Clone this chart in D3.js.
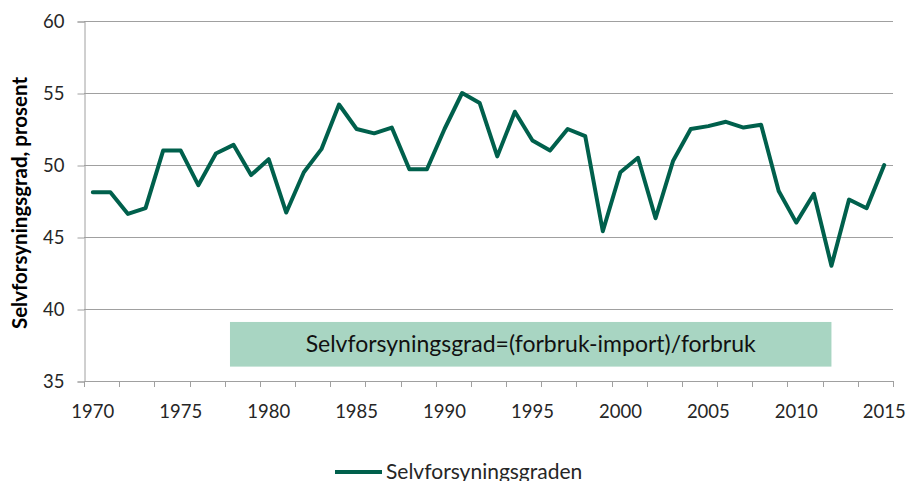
<!DOCTYPE html>
<html>
<head>
<meta charset="utf-8">
<script src="https://cdn.jsdelivr.net/npm/d3@7"></script>
<style>
  body { margin: 0; background: #fff; }
  svg { font-family: Lato, "Open Sans", sans-serif; }
</style>
</head>
<body>
<svg id="chart" width="911" height="481"></svg>
<script>
// year categories 1970-2015
var years = d3.range(1970, 2016);
// selvforsyningsgrad in percent
var values = [48.1, 48.1, 46.6, 47.0, 51.0, 51.0, 48.6, 50.8, 51.4, 49.3,
              50.4, 46.7, 49.5, 51.1, 54.2, 52.5, 52.2, 52.6, 49.7, 49.7,
              52.5, 55.0, 54.3, 50.6, 53.7, 51.7, 51.0, 52.5, 52.0, 45.4,
              49.5, 50.5, 46.3, 50.3, 52.5, 52.7, 53.0, 52.6, 52.8, 48.2,
              46.0, 48.0, 43.0, 47.6, 47.0, 50.0];
var yTicks = [35, 40, 45, 50, 55, 60];
var xLabels = [1970, 1975, 1980, 1985, 1990, 1995, 2000, 2005, 2010, 2015];
var seriesName = "Selvforsyningsgraden";
var yTitle = "Selvforsyningsgrad, prosent";
var note = "Selvforsyningsgrad=(forbruk-import)/forbruk";
var noteBox = {from: 1977.8, to: 2012, top: 39.1, bottom: 36.0};

var plot = {left: 84, right: 893, top: 21, bottom: 381};
var lineColor = "#00604c";
var gridColor = "#a0a0a0";

var svg = d3.select("#chart");

var x = d3.scaleBand()
          .domain(years)
          .range([plot.left, plot.right])
          .padding(0);
var xMid = function(yr){ return x(yr) + x.bandwidth() / 2; };
// linear helper for the note box (category centres)
var xLin = d3.scaleLinear()
             .domain([1970, 2015])
             .range([xMid(1970), xMid(2015)]);

var y = d3.scaleLinear()
          .domain([35, 60])
          .range([plot.bottom, plot.top]);

//////// gridlines ////////
svg.append("g")
   .selectAll("line")
   .data(yTicks.filter(function(d){ return d > 35; }))
   .enter()
   .append("line")
   .attr("x1", plot.left)
   .attr("x2", plot.right)
   .attr("y1", function(d){ return Math.round(y(d)) + 0.5; })
   .attr("y2", function(d){ return Math.round(y(d)) + 0.5; })
   .attr("stroke", gridColor)
   .attr("stroke-width", 1);

//////// y axis ////////
var yAxis = svg.append("g")
   .attr("transform", "translate(" + (plot.left + 0.5) + ",0.5)")
   .call(d3.axisLeft(y).tickValues(yTicks).tickSize(7).tickPadding(13));
yAxis.select(".domain").attr("stroke", gridColor);
yAxis.selectAll(".tick line").attr("stroke", gridColor);
yAxis.selectAll(".tick text")
     .attr("font-size", "18.5px")
     .attr("font-family", "Lato")
     .attr("fill", "#262626");

//////// x axis ////////
var xg = svg.append("g");
xg.append("line")
  .attr("x1", plot.left)
  .attr("x2", plot.right)
  .attr("y1", plot.bottom + 0.5)
  .attr("y2", plot.bottom + 0.5)
  .attr("stroke", gridColor);
var tickYears = years.filter(function(d, i){ return i % 2 == 0; });
xg.selectAll(".xtick")
  .data(tickYears.map(function(d){ return x(d); }).concat([plot.right]))
  .enter()
  .append("line")
  .attr("class", "xtick")
  .attr("x1", function(d){ return Math.round(d) + 0.5; })
  .attr("x2", function(d){ return Math.round(d) + 0.5; })
  .attr("y1", plot.bottom)
  .attr("y2", plot.bottom + 6)
  .attr("stroke", gridColor);
xg.selectAll(".xlabel")
  .data(xLabels)
  .enter()
  .append("text")
  .attr("class", "xlabel")
  .attr("x", function(d){ return xMid(d); })
  .attr("y", 417.5)
  .attr("text-anchor", "middle")
  .attr("font-size", "18.5px")
  .attr("fill", "#262626")
  .text(function(d){ return d; });

//////// y title ////////
svg.append("text")
   .attr("transform", "translate(27,203) rotate(-90)")
   .attr("text-anchor", "middle")
   .attr("font-size", "20.5px")
   .attr("font-weight", "bold")
   .attr("fill", "#000")
   .text(yTitle);

//////// note box ////////
svg.append("rect")
   .attr("x", xLin(noteBox.from))
   .attr("y", y(noteBox.top))
   .attr("width", xLin(noteBox.to) - xLin(noteBox.from))
   .attr("height", y(noteBox.bottom) - y(noteBox.top))
   .attr("fill", "#a8d5c2");
svg.append("text")
   .attr("x", (xLin(noteBox.from) + xLin(noteBox.to)) / 2)
   .attr("y", (y(noteBox.top) + y(noteBox.bottom)) / 2 + 8)
   .attr("text-anchor", "middle")
   .attr("font-size", "23px")
   .attr("fill", "#111")
   .text(note);

//////// line ////////
var line = d3.line()
             .x(function(d, i){ return xMid(years[i]); })
             .y(function(d){ return y(d); });
svg.append("path")
   .datum(values)
   .attr("d", line)
   .attr("fill", "none")
   .attr("stroke", lineColor)
   .attr("stroke-width", 4)
   .attr("stroke-linejoin", "round")
   .attr("stroke-linecap", "round");

//////// legend ////////
var legend = svg.append("g").attr("transform", "translate(335,472)");
legend.append("line")
      .attr("x1", 0).attr("x2", 47)
      .attr("y1", 0).attr("y2", 0)
      .attr("stroke", lineColor)
      .attr("stroke-width", 4);
legend.append("text")
      .attr("x", 51)
      .attr("y", 6.5)
      .attr("font-size", "21px")
      .attr("fill", "#262626")
      .text(seriesName);
</script>
</body>
</html>
